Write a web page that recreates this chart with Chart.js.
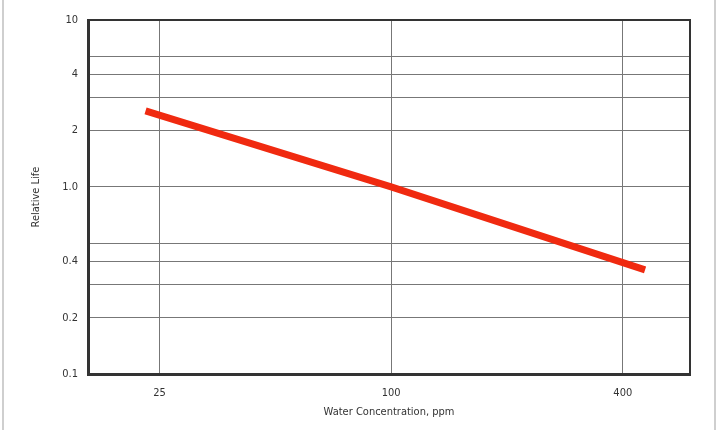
<!DOCTYPE html>
<html>
<head>
<meta charset="utf-8">
<script src="https://cdn.jsdelivr.net/npm/chart.js@4/dist/chart.umd.min.js"></script>
<style>
  html, body { margin: 0; padding: 0; background: #fff; }
  #wrap { width: 720px; height: 430px; position: relative; }
</style>
</head>
<body>
<div id="wrap"><canvas id="myChart" width="720" height="430"></canvas></div>
<script>
// water concentration (ppm) vs relative life
const waterPpm = [23, 100, 457];
const relativeLife = [2.55, 1.0, 0.36];

const xTicks = [25, 100, 400];
const yTicks = [0.1, 0.2, 0.3, 0.4, 0.5, 1, 2, 3, 4, 5, 7.8];
const yLabels = ['0.1', '0.2', '', '0.4', '', '1.0', '2', '', '4', '', '10'];

const tickFont = { family: 'DejaVu Sans Condensed', size: 11 };

// frame on top/right plus the light gray page edges
const framePlugin = {
    id: 'frame',
    afterDraw(chart) {
        const ctx = chart.ctx;
        const a = chart.chartArea;
        ctx.save();
        ctx.strokeStyle = '#333';
        ctx.lineWidth = 2;
        ctx.beginPath();
        ctx.moveTo(a.left, a.top);
        ctx.lineTo(a.right, a.top);
        ctx.lineTo(a.right, a.bottom);
        ctx.stroke();
        ctx.strokeStyle = '#cfcfcf';
        ctx.lineWidth = 2;
        ctx.beginPath();
        ctx.moveTo(3, 0);
        ctx.lineTo(3, 430);
        ctx.moveTo(715, 0);
        ctx.lineTo(715, 430);
        ctx.stroke();
        ctx.restore();
    }
};

const ctx = document.getElementById('myChart').getContext('2d');
const chart = new Chart(ctx, {
    type: 'scatter',
    data: {
        datasets: [{
            data: waterPpm.map((x, i) => ({ x: x, y: relativeLife[i] })),
            showLine: true,
            borderColor: '#f02a10',
            borderWidth: 7,
            borderCapStyle: 'butt',
            pointRadius: 0,
            fill: false
        }]
    },
    options: {
        responsive: false,
        animation: false,
        layout: { padding: { left: 26, right: 30, top: 20, bottom: 0 } },
        plugins: {
            legend: { display: false },
            tooltip: { enabled: false }
        },
        scales: {
            x: {
                type: 'logarithmic',
                min: 16.3,
                max: 598,
                afterBuildTicks: s => { s.ticks = xTicks.map(v => ({ value: v })); },
                afterFit: s => { s.height = 56; },
                ticks: {
                    color: '#333',
                    font: tickFont,
                    padding: 13,
                    maxRotation: 0,
                    callback: v => String(v)
                },
                grid: { color: '#777', lineWidth: 1, drawTicks: false },
                border: { color: '#333', width: 3 },
                title: {
                    display: true,
                    text: 'Water Concentration, ppm',
                    color: '#333',
                    font: tickFont,
                    padding: { top: 4, bottom: 11 }
                }
            },
            y: {
                type: 'logarithmic',
                min: 0.1,
                max: 7.8,
                afterBuildTicks: s => { s.ticks = yTicks.map(v => ({ value: v })); },
                afterFit: s => { s.width = 62; },
                ticks: {
                    color: '#333',
                    font: tickFont,
                    padding: 10,
                    autoSkip: false,
                    callback: (v, i) => yLabels[i]
                },
                grid: { color: '#777', lineWidth: 1, drawTicks: false },
                border: { color: '#333', width: 3 },
                title: {
                    display: true,
                    text: 'Relative Life',
                    color: '#333',
                    font: tickFont,
                    padding: { bottom: 14 }
                }
            }
        }
    },
    plugins: [framePlugin]
});
</script>
</body>
</html>
